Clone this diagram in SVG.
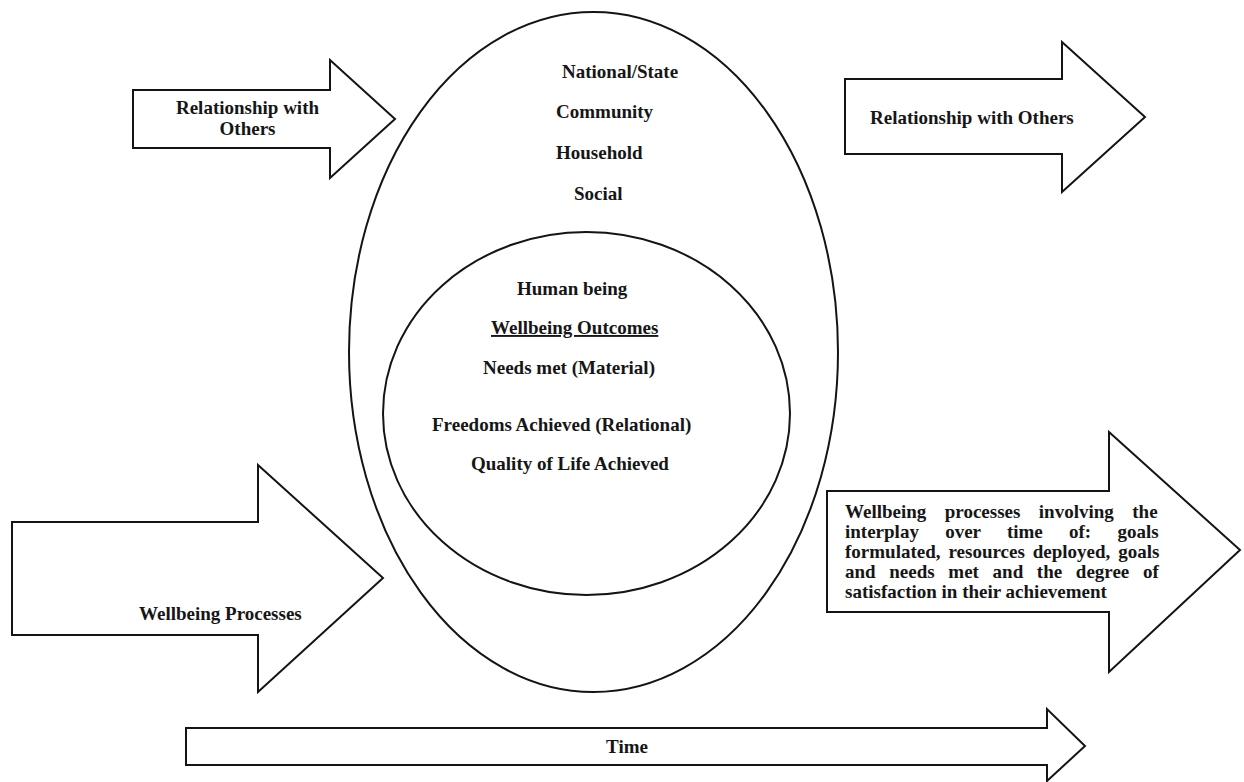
<svg xmlns="http://www.w3.org/2000/svg" width="1244" height="782" viewBox="0 0 1244 782">
  <style>
    .shape { fill: #ffffff; stroke: #141414; stroke-width: 2; stroke-linejoin: miter; }
    .ring { fill: none; stroke: #141414; stroke-width: 2; }
    .lbl { font-family: "Liberation Serif", "Times New Roman", serif; font-weight: bold; font-size: 19px; fill: #161616; }
    .mid { text-anchor: middle; }
  </style>
  <rect width="1244" height="782" fill="#ffffff"/>

  <!-- Nested spheres: society around the individual -->
  <g id="outer-sphere">
    <ellipse class="ring" cx="593.5" cy="352" rx="244.5" ry="340"/>
    <text class="lbl" x="562" y="78">National/State</text>
    <text class="lbl" x="556" y="118">Community</text>
    <text class="lbl" x="556" y="159">Household</text>
    <text class="lbl" x="574" y="200">Social</text>
  </g>

  <g id="inner-sphere">
    <ellipse class="ring" cx="586.5" cy="413.5" rx="203.5" ry="181.5"/>
    <text class="lbl" x="517" y="295">Human being</text>
    <text class="lbl" x="491" y="334" text-decoration="underline">Wellbeing Outcomes</text>
    <text class="lbl" x="483" y="374">Needs met (Material)</text>
    <text class="lbl" x="432" y="431">Freedoms Achieved (Relational)</text>
    <text class="lbl" x="471" y="470">Quality of Life Achieved</text>
  </g>

  <!-- Block arrows -->
  <g id="connectors">
    <g id="relationship-in">
      <polygon class="shape" points="133,90 330,90 330,60 395,119 330,178 330,148 133,148"/>
      <text class="lbl mid" x="247.5" y="114">Relationship with</text>
      <text class="lbl mid" x="247.5" y="135">Others</text>
    </g>

    <g id="relationship-out">
      <polygon class="shape" points="845,79 1062,79 1062,42 1145,117 1062,192 1062,154 845,154"/>
      <text class="lbl" x="870" y="124">Relationship with Others</text>
    </g>

    <g id="processes-in">
      <polygon class="shape" points="12,522 258,522 258,465 383,578 258,692 258,635 12,635"/>
      <text class="lbl" x="139" y="620">Wellbeing Processes</text>
    </g>

    <g id="processes-out">
      <polygon class="shape" points="827,491 1109,491 1109,432 1240,550 1109,672 1109,612 827,612"/>
      <!-- justified paragraph: word-spacing stretches each line to the same width -->
      <text class="lbl" x="845" y="518" word-spacing="13.7">Wellbeing processes involving the</text>
      <text class="lbl" x="845" y="538" word-spacing="21.5">interplay over time of: goals</text>
      <text class="lbl" x="845" y="558" word-spacing="3.2">formulated, resources deployed, goals</text>
      <text class="lbl" x="845" y="578" word-spacing="8.9">and needs met and the degree of</text>
      <text class="lbl" x="845" y="598">satisfaction in their achievement</text>
    </g>

    <g id="time">
      <polygon class="shape" points="186,728 1047,728 1047,709 1085,746 1047,781 1047,765 186,765"/>
      <text class="lbl mid" x="627" y="753">Time</text>
    </g>
  </g>
</svg>
